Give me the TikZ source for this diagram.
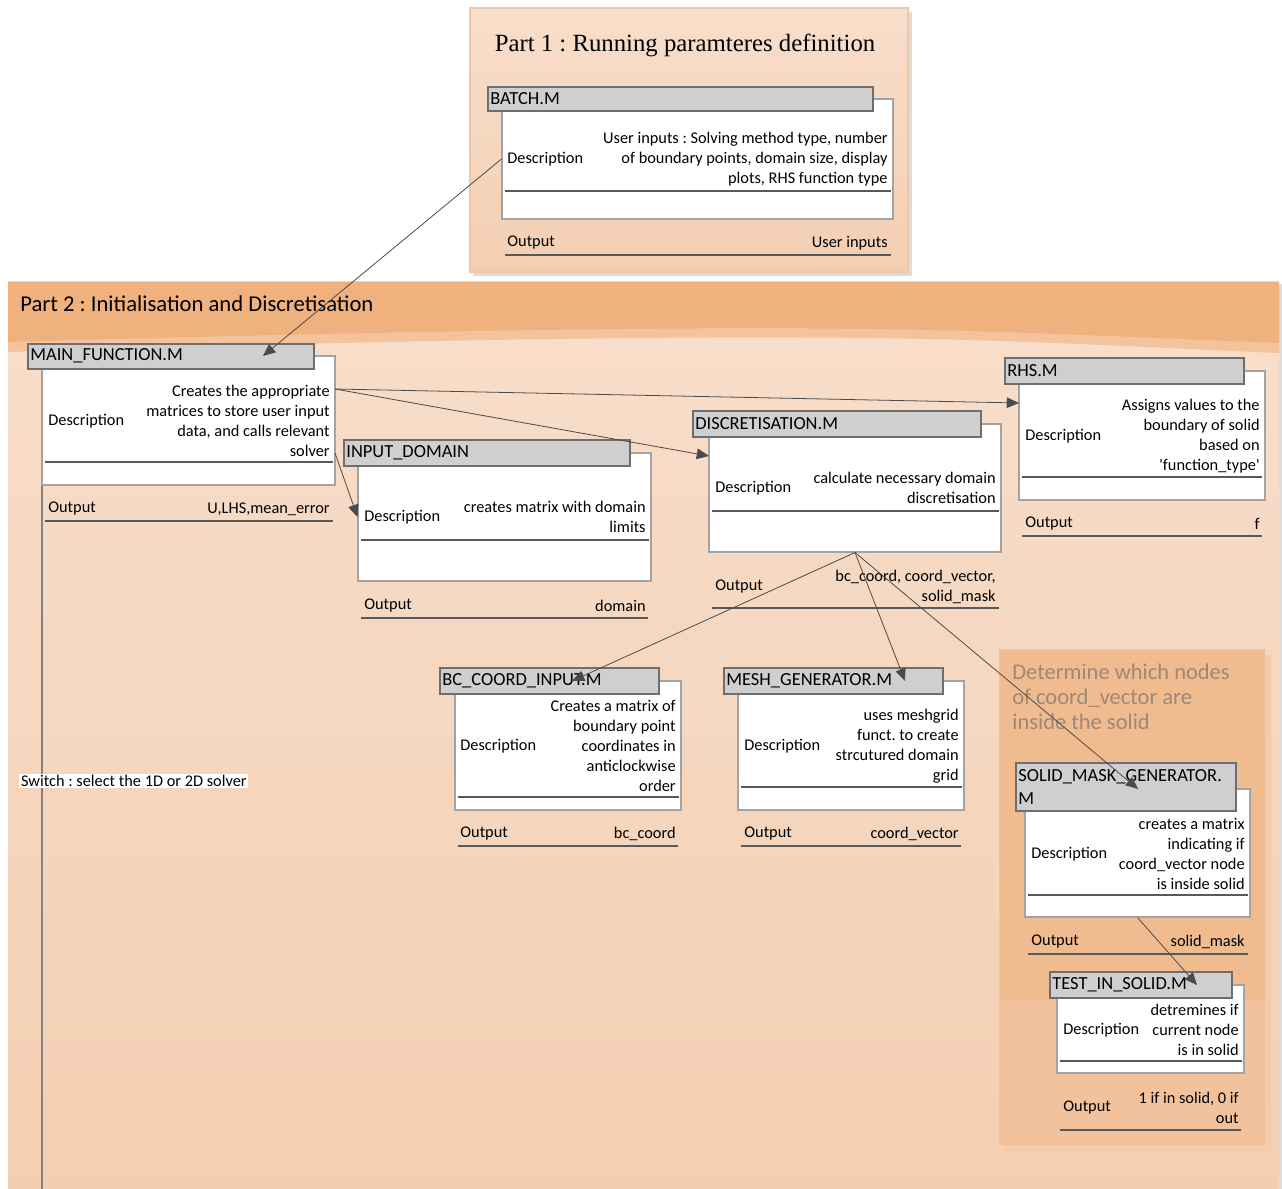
\documentclass[tikz,border=0pt]{standalone}
\usepackage{fontspec}
\setmainfont{Carlito}
\newfontfamily\partonefont{Liberation Serif}
\usepackage{tikz}
\usetikzlibrary{arrows.meta,fit}
\frenchspacing
\definecolor{PtBand}{HTML}{EFB27F}
\definecolor{PtStrip}{HTML}{F3C39D}
\definecolor{PtTop}{HTML}{F8DECB}
\definecolor{PtBottom}{HTML}{F3CFB2}
\definecolor{PtEdge}{HTML}{F0C6A4}
\definecolor{PtShadow}{HTML}{DCDCDC}
\definecolor{GrpDark}{HTML}{F0BB8F}
\definecolor{GrpMid}{HTML}{F2C29C}
\definecolor{GrpLight}{HTML}{F4CBAB}
\definecolor{NoteText}{HTML}{9E8878}
\definecolor{HeadGray}{HTML}{CFCFCF}
\definecolor{HeadLine}{HTML}{6E6E6E}
\definecolor{BoxLine}{HTML}{A3A3A3}
\definecolor{RuleGray}{HTML}{595959}
\definecolor{ConnGray}{HTML}{4A4A4A}

\begin{document}
\begin{tikzpicture}[x=0.02cm,y=-0.02cm,
  modhead/.style={draw=HeadLine,fill=HeadGray,line width=.6pt,inner sep=0pt},
  modbox/.style={draw=BoxLine,fill=white,line width=.6pt,inner sep=0pt},
  headtxt/.style={anchor=west,inner sep=0pt,align=left,font=\fontsize{10.5}{12.5}\selectfont},
  lbl/.style={anchor=west,inner sep=0pt,font=\fontsize{9.3}{11.4}\selectfont},
  val/.style={anchor=east,inner sep=0pt,align=right,font=\fontsize{9.3}{11.4}\selectfont},
  rule/.style={draw=RuleGray,line width=.6pt},
  conn/.style={draw=ConnGray,line width=.45pt,-{Triangle[length=7pt,width=6pt]}}]
\path[use as bounding box] (0,0) rectangle (1282,1189);
\fill[white] (0,0) rectangle (1282,1189);

% part 1
\fill[PtShadow] (473,12) rectangle (912,276);
\shade[top color=PtTop,bottom color=PtBottom,draw=PtEdge,line width=.6pt] (470,8) rectangle (908,272);
\node[anchor=center,inner sep=0pt,font=\partonefont\fontsize{14.1}{17}\selectfont] (partone) at (685,45) {Part 1 : Running paramteres definition};

% part 2
\fill[PtShadow] (1279,284) rectangle (1282,1189);
\shade[top color=PtTop,bottom color=PtBottom] (8,282) rectangle (1279,1189);
\fill[PtStrip] (8,282) -- (1279,282) -- (1279,353) .. controls (1200,350) and (1120,345) .. (1000,341)
  .. controls (800,334) and (500,337) .. (8,352) -- cycle;
\fill[PtBand] (8,282) -- (1279,282) -- (1279,343) .. controls (1200,340) and (1120,336) .. (1000,332)
  .. controls (800,325) and (500,328) .. (8,342) -- cycle;
\node[lbl,font=\fontsize{12.9}{15}\selectfont] (parttwo) at (20,304) {Part 2 : Initialisation and Discretisation};

% solid mask group
\fill[GrpLight] (1005,655) rectangle (1271,1153);
\fill[GrpMid] (999,649) rectangle (1265,1145);
\fill[GrpDark] (1000,650) rectangle (1265,1000);
\node[lbl,align=left,text=NoteText,font=\fontsize{12.8}{14.2}\selectfont] (solidnote) at (1012,697) {Determine which nodes\\of coord\_vector are\\inside the solid};

% batch
\node[modbox,fit={(502,99) (893,219)}] (batchbox) {};
\node[modhead,fit={(488,87) (873,111)}] (batchhead) {};
\node[headtxt] (batcht) at (490,99) {BATCH.M};
\node[lbl] (batchdesc) at (507,159) {Description};
\node[val] (batchdtxt) at (888,159) {User inputs : Solving method type, number\\of boundary points, domain size, display\\plots, RHS function type};
\draw[rule] (505,191) -- (891,191);
\node[lbl] (batchout) at (507,243) {Output};
\node[val] (batchoutv) at (888,243) {User inputs};
\draw[rule] (505,255) -- (891,255);

% main function
\draw[draw=BoxLine!80!black,line width=.7pt] (42,485) -- (42,1189);
\node[modbox,fit={(42,356) (335,485)}] (mainbox) {};
\node[modhead,fit={(28,344) (314,369)}] (mainhead) {};
\node[headtxt] (maint) at (30,356) {MAIN\_FUNCTION.M};
\node[lbl] (maindesc) at (48,421) {Description};
\node[val] (maindtxt) at (330,421) {Creates the appropriate\\matrices to store user input\\data, and calls relevant\\solver};
\draw[rule] (45,462) -- (333,462);
\node[lbl] (mainout) at (48,509) {Output};
\node[val] (mainoutv) at (330,509) {U,LHS,mean\_error};
\draw[rule] (45,521) -- (333,521);

% input domain
\node[modbox,fit={(358,453) (651,581)}] (inputbox) {};
\node[modhead,fit={(344,440) (630,466)}] (inputhead) {};
\node[headtxt] (inputt) at (346,453) {INPUT\_DOMAIN};
\node[lbl] (inputdesc) at (364,517) {Description};
\node[val] (inputdtxt) at (646,517) {creates matrix with domain\\limits};
\draw[rule] (361,540) -- (649,540);
\node[lbl] (inputout) at (364,606) {Output};
\node[val] (inputoutv) at (646,606) {domain};
\draw[rule] (361,618) -- (648,618);

% discretisation
\node[modbox,fit={(709,424) (1001,552)}] (discbox) {};
\node[modhead,fit={(693,411) (981,437)}] (dischead) {};
\node[headtxt] (disct) at (695,424) {DISCRETISATION.M};
\node[lbl] (discdesc) at (715,488) {Description};
\node[val] (discdtxt) at (996,488) {calculate necessary domain\\discretisation};
\draw[rule] (712,511) -- (999,511);
\node[lbl] (discout) at (715,587) {Output};
\node[val] (discoutv) at (996,587) {bc\_coord, coord\_vector,\\solid\_mask};
\draw[rule] (712,608) -- (999,608);

% rhs
\node[modbox,fit={(1019,371) (1265,500)}] (rhsbox) {};
\node[modhead,fit={(1005,358) (1244,384)}] (rhshead) {};
\node[headtxt] (rhst) at (1007,371) {RHS.M};
\node[lbl] (rhsdesc) at (1025,436) {Description};
\node[val] (rhsdtxt) at (1260,436) {Assigns values to the\\boundary of solid\\based on\\\textquotesingle function\_type\textquotesingle};
\draw[rule] (1022,477) -- (1262,477);
\node[lbl] (rhsout) at (1025,524) {Output};
\node[val] (rhsoutv) at (1260,524) {f};
\draw[rule] (1022,536) -- (1262,536);

% bc coord input
\node[modbox,fit={(455,681) (681,810)}] (bcbox) {};
\node[modhead,fit={(440,668) (659,694)}] (bchead) {};
\node[headtxt] (bct) at (442,681) {BC\_COORD\_INPUT.M};
\node[lbl] (bcdesc) at (460,746) {Description};
\node[val] (bcdtxt) at (676,746) {Creates a matrix of\\boundary point\\coordinates in\\anticlockwise\\order};
\draw[rule] (458,797) -- (679,797);
\node[lbl] (bcout) at (460,834) {Output};
\node[val] (bcoutv) at (676,834) {bc\_coord};
\draw[rule] (458,846) -- (678,846);

% mesh generator
\node[modbox,fit={(738,681) (964,810)}] (meshbox) {};
\node[modhead,fit={(724,668) (943,694)}] (meshhead) {};
\node[headtxt] (mesht) at (726,681) {MESH\_GENERATOR.M};
\node[lbl] (meshdesc) at (744,746) {Description};
\node[val] (meshdtxt) at (959,746) {uses meshgrid\\funct. to create\\strcutured domain\\grid};
\draw[rule] (741,787) -- (962,787);
\node[lbl] (meshout) at (744,834) {Output};
\node[val] (meshoutv) at (959,834) {coord\_vector};
\draw[rule] (741,846) -- (961,846);

% solid mask generator
\node[modbox,fit={(1025,789) (1250,917)}] (solidbox) {};
\node[modhead,fit={(1016,763) (1236,811)}] (solidhead) {};
\node[headtxt,font=\fontsize{10.5}{12.6}\selectfont] (solidt) at (1018,787) {SOLID\_MASK\_GENERATOR.\\M};
\node[lbl] (soliddesc) at (1031,854) {Description};
\node[val] (soliddtxt) at (1245,854) {creates a matrix\\indicating if\\coord\_vector node\\is inside solid};
\draw[rule] (1028,895) -- (1248,895);
\node[lbl] (solidout) at (1031,942) {Output};
\node[val] (solidoutv) at (1245,942) {solid\_mask};
\draw[rule] (1028,954) -- (1248,954);

% test in solid
\node[modbox,fit={(1057,985) (1244,1073)}] (testbox) {};
\node[modhead,fit={(1050,972) (1232,998)}] (testhead) {};
\node[headtxt] (testt) at (1052,985) {TEST\_IN\_SOLID.M};
\node[lbl] (testdesc) at (1063,1030) {Description};
\node[val] (testdtxt) at (1239,1030) {detremines if\\current node\\is in solid};
\draw[rule] (1060,1061) -- (1242,1061);
\node[lbl] (testout) at (1063,1108) {Output};
\node[val] (testoutv) at (1239,1108) {1 if in solid, 0 if\\out};
\draw[rule] (1060,1130) -- (1241,1130);

\node[lbl,fill=white,inner sep=1pt] (switch) at (19,781) {Switch : select the 1D or 2D solver};

% connectors
\coordinate (mainin) at (263,356);
\coordinate (mainport) at (335,389);
\coordinate (mainport2) at (335,453);
\coordinate (rhsin) at (1019,403);
\coordinate (discin) at (709,456);
\coordinate (bcin) at (572,681);
\coordinate (meshin) at (905,681);
\coordinate (solidin) at (1138,789);
\coordinate (testin) at (1197,985);
\draw[conn] (batchbox.west |- batchdesc) -- (mainin);
\draw[conn] (mainport) -- (rhsin);
\draw[conn] (mainport) -- (discin);
\draw[conn] (mainport2) -- (inputbox.west);
\draw[conn] (discbox.south) -- (bcin);
\draw[conn] (discbox.south) -- (meshin);
\draw[conn] (discbox.south) -- (solidin);
\draw[conn] (solidbox.south) -- (testin);
\end{tikzpicture}
\end{document}
